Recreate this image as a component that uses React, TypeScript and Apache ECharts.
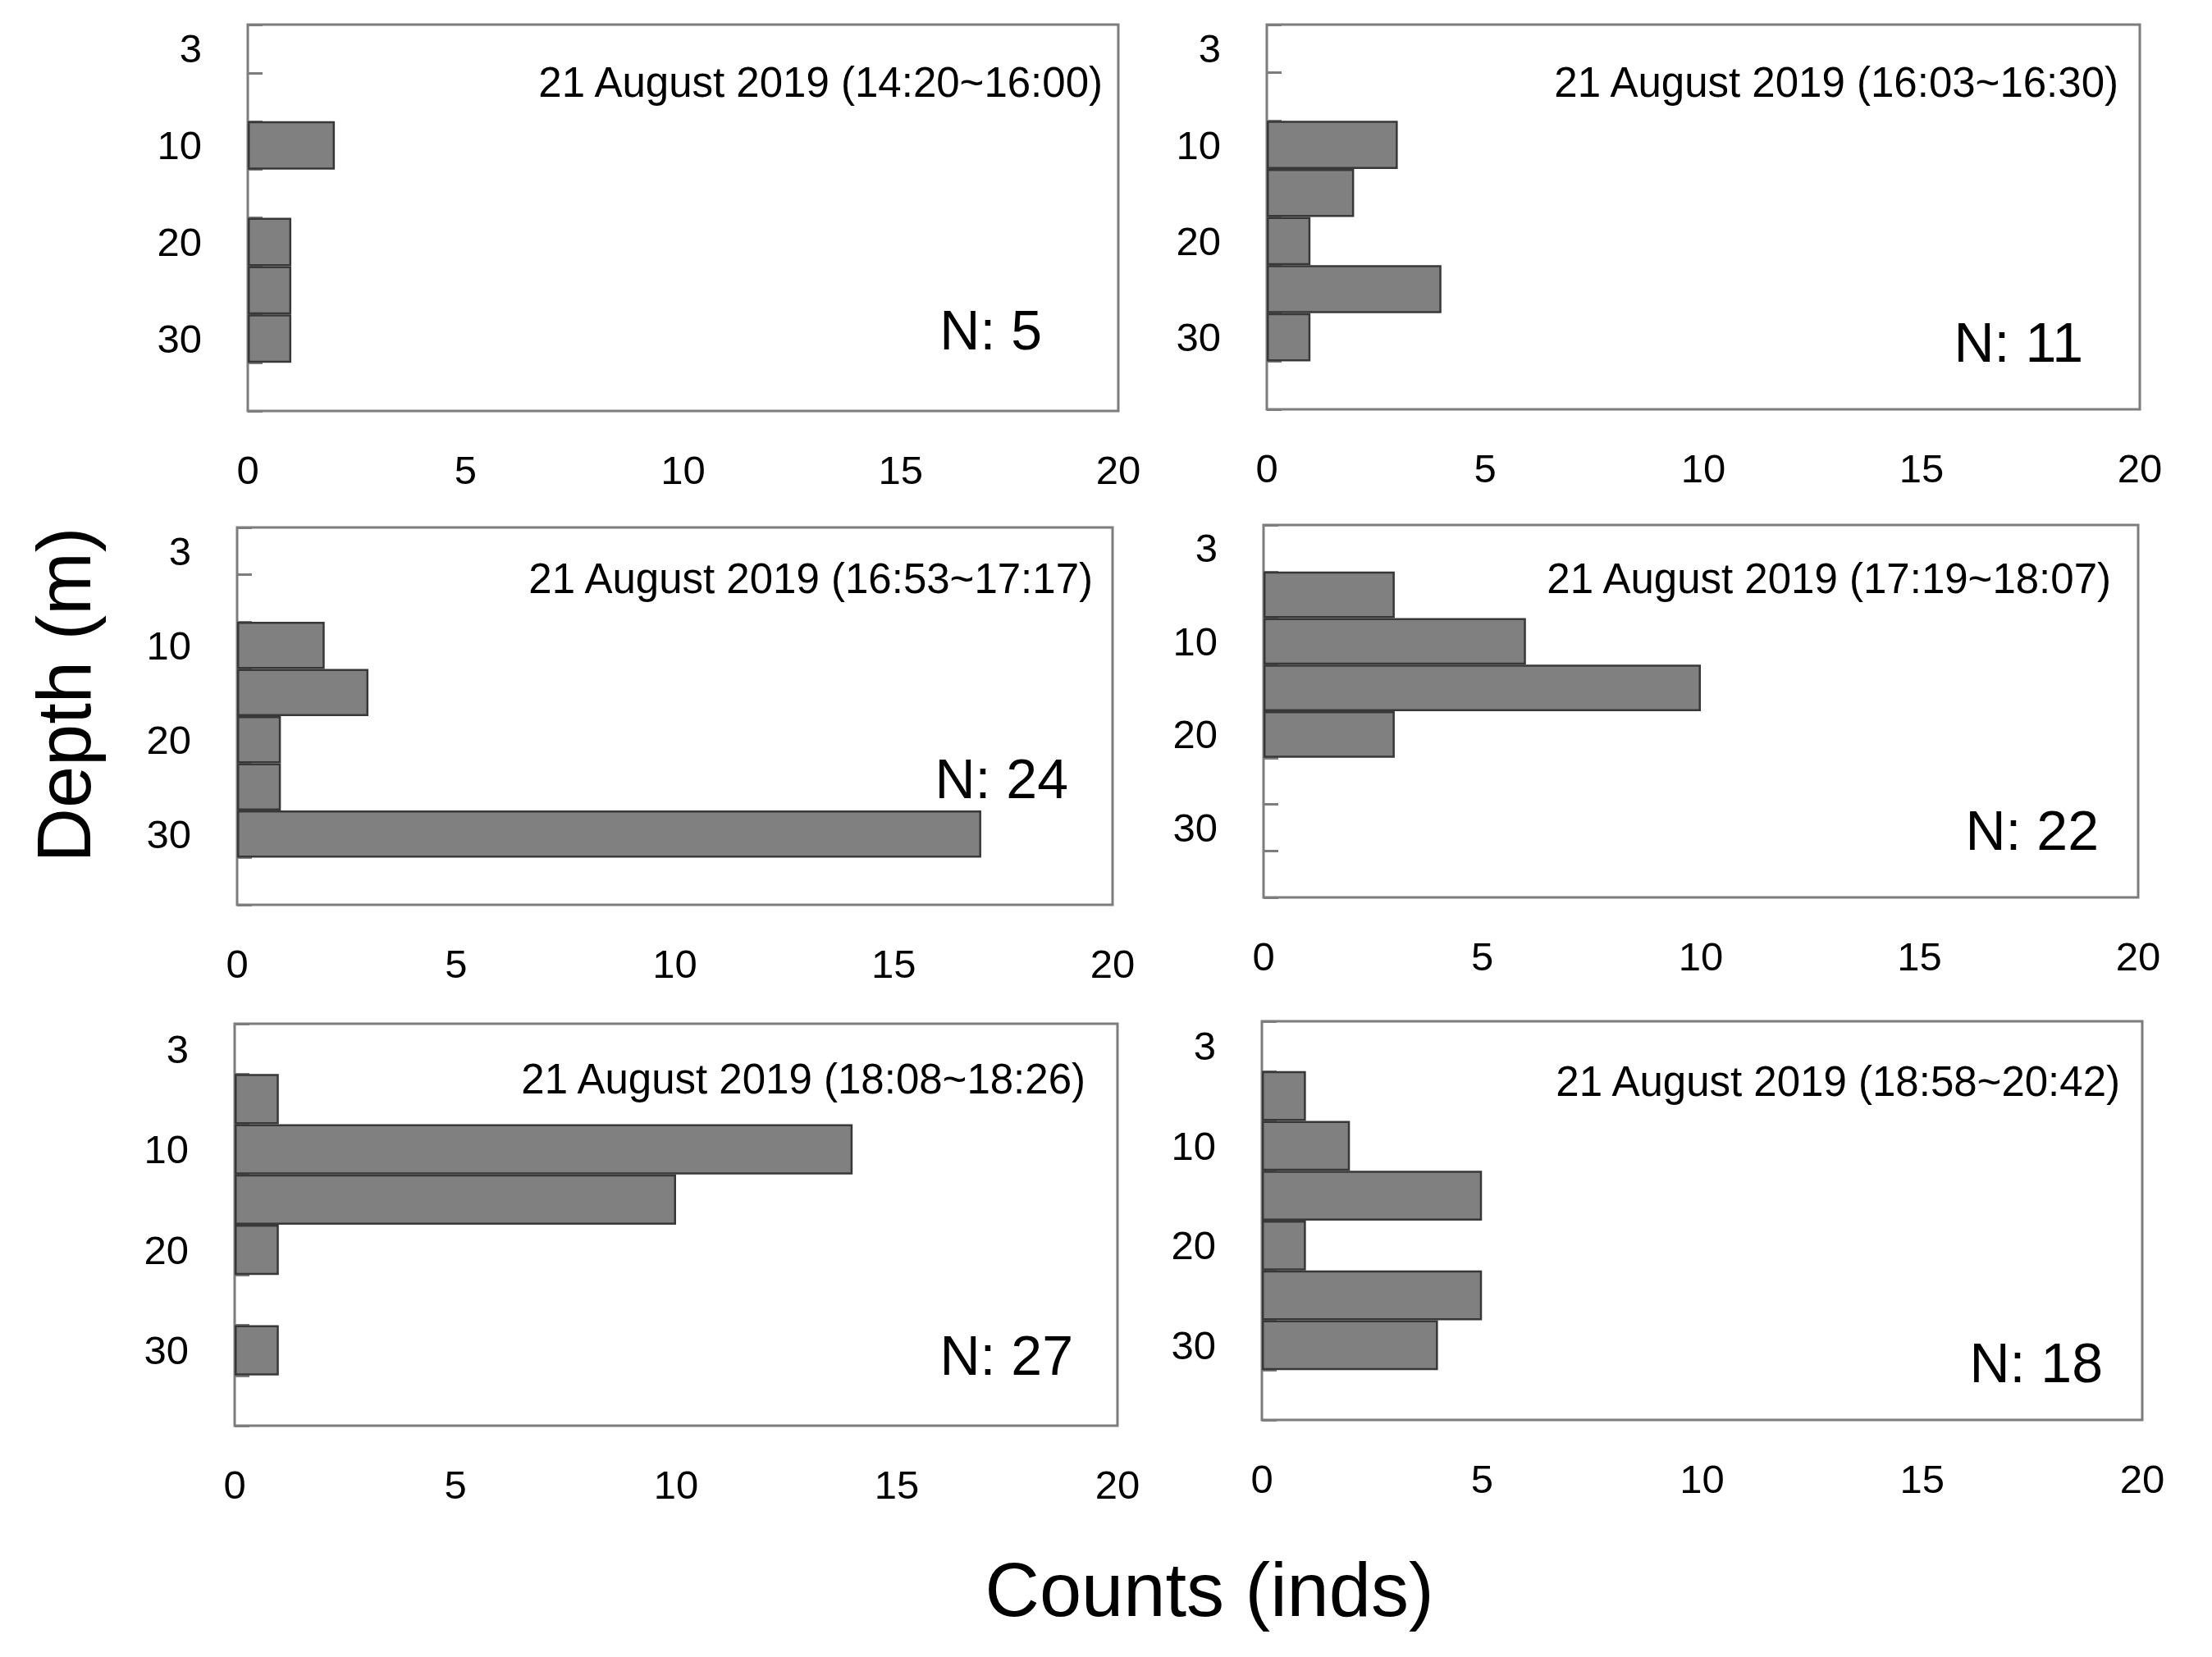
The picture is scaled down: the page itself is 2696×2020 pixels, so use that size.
import React, { useEffect, useRef } from "react";
import * as echarts from "echarts";

// Depth bins (m) — category axis, top to bottom
const DEPTH_BINS = ["3", "5", "10", "15", "20", "25", "30", "35"];
const DEPTH_LABELS = ["3", "10", "20", "30"];

// Counts per depth bin for each sampling period
const COUNTS_1 = [0, 0, 2, 0, 1, 1, 1, 0];
const COUNTS_2 = [0, 0, 3, 2, 1, 4, 1, 0];
const COUNTS_3 = [0, 0, 2, 3, 1, 1, 17, 0];
const COUNTS_4 = [0, 3, 6, 10, 3, 0, 0, 0];
const COUNTS_5 = [0, 1, 14, 10, 1, 0, 1, 0];
const COUNTS_6 = [0, 1, 2, 5, 1, 5, 4, 0];

const PANEL_TITLES = [
  "21 August 2019 (14:20~16:00)",
  "21 August 2019 (16:03~16:30)",
  "21 August 2019 (16:53~17:17)",
  "21 August 2019 (17:19~18:07)",
  "21 August 2019 (18:08~18:26)",
  "21 August 2019 (18:58~20:42)",
];
const PANEL_N = ["N: 5", "N: 11", "N: 24", "N: 22", "N: 27", "N: 18"];

const X_MIN = 0;
const X_MAX = 20;
const X_INTERVAL = 5;

const Y_TITLE = "Depth (m)";
const X_TITLE = "Counts (inds)";

const ALL_COUNTS = [COUNTS_1, COUNTS_2, COUNTS_3, COUNTS_4, COUNTS_5, COUNTS_6];

// layout (pixels): [left, top, right, bottom]
const GRID_BOXES = [
  [302, 30, 1363, 501],
  [1544, 30, 2608, 499],
  [289, 643, 1356, 1103],
  [1540, 640, 2606, 1094],
  [286, 1248, 1362, 1738],
  [1538, 1245, 2611, 1731],
];
// [x(right), y(middle)] for panel titles and N labels
const TITLE_POS = [
  [1344, 100],
  [2582, 100],
  [1332, 705],
  [2573, 705],
  [1323, 1315],
  [2584, 1318],
];
const N_POS = [
  [1270, 402],
  [2539, 417],
  [1302, 949],
  [2558, 1012],
  [1308, 1652],
  [2563, 1661],
];

const FONT = "'Liberation Sans', Arial, sans-serif";

export default function App() {
  const ref = useRef<HTMLDivElement>(null);

  useEffect(() => {
    if (!ref.current) return;
    const chart = echarts.init(ref.current, null, { renderer: "svg" });

    const grids = GRID_BOXES.map((r) => ({
      left: r[0],
      top: r[1],
      width: r[2] - r[0],
      height: r[3] - r[1],
      show: true,
      borderColor: "#7d7d7d",
      borderWidth: 3,
      backgroundColor: "#ffffff",
      containLabel: false,
      z: 0,
    }));

    const xAxes = GRID_BOXES.map((_, i) => ({
      type: "value",
      gridIndex: i,
      min: X_MIN,
      max: X_MAX,
      interval: X_INTERVAL,
      z: 1,
      axisLine: { show: false },
      axisTick: { show: false },
      splitLine: { show: false },
      axisLabel: {
        color: "#000",
        fontSize: 49,
        fontFamily: FONT,
        margin: 47,
      },
    }));

    const yAxes = GRID_BOXES.map((_, i) => ({
      type: "category",
      gridIndex: i,
      inverse: true,
      data: DEPTH_BINS,
      boundaryGap: true,
      z: 1,
      axisLine: { show: false },
      axisTick: {
        show: true,
        inside: true,
        length: 18,
        interval: 0,
        lineStyle: { color: "#7d7d7d", width: 3 },
      },
      splitLine: { show: false },
      axisLabel: {
        color: "#000",
        fontSize: 49,
        fontFamily: FONT,
        margin: 56,
        interval: (_idx: number, val: string) => DEPTH_LABELS.includes(val),
      },
    }));

    const series = ALL_COUNTS.map((arr, i) => ({
      type: "bar",
      xAxisIndex: i,
      yAxisIndex: i,
      data: arr.map((v) => (v === 0 ? null : v)),
      barCategoryGap: "0%",
      barGap: "0%",
      itemStyle: {
        color: "#808080",
        borderColor: "#383838",
        borderWidth: 2.5,
      },
      z: 10,
    }));

    const graphics: any[] = [];
    PANEL_TITLES.forEach((t, i) => {
      graphics.push({
        type: "text",
        x: TITLE_POS[i][0],
        y: TITLE_POS[i][1],
        z: 20,
        style: {
          text: t,
          fill: "#000",
          font: `51px ${FONT}`,
          align: "right",
          verticalAlign: "middle",
        },
      });
      graphics.push({
        type: "text",
        x: N_POS[i][0],
        y: N_POS[i][1],
        z: 20,
        style: {
          text: PANEL_N[i],
          fill: "#000",
          font: `68px ${FONT}`,
          align: "right",
          verticalAlign: "middle",
        },
      });
    });
    graphics.push({
      type: "text",
      x: 78,
      y: 847,
      rotation: Math.PI / 2,
      style: {
        text: Y_TITLE,
        fill: "#000",
        font: `92px ${FONT}`,
        align: "center",
        verticalAlign: "middle",
      },
    });
    graphics.push({
      type: "text",
      x: 1474,
      y: 1938,
      style: {
        text: X_TITLE,
        fill: "#000",
        font: `92px ${FONT}`,
        align: "center",
        verticalAlign: "middle",
      },
    });

    chart.setOption({
      animation: false,
      backgroundColor: "#ffffff",
      grid: grids,
      xAxis: xAxes,
      yAxis: yAxes,
      series,
      graphic: graphics,
    });

    return () => chart.dispose();
  }, []);

  return (
    <div
      ref={ref}
      style={{ position: "absolute", left: 0, top: 0, width: 2696, height: 2020 }}
    />
  );
}
